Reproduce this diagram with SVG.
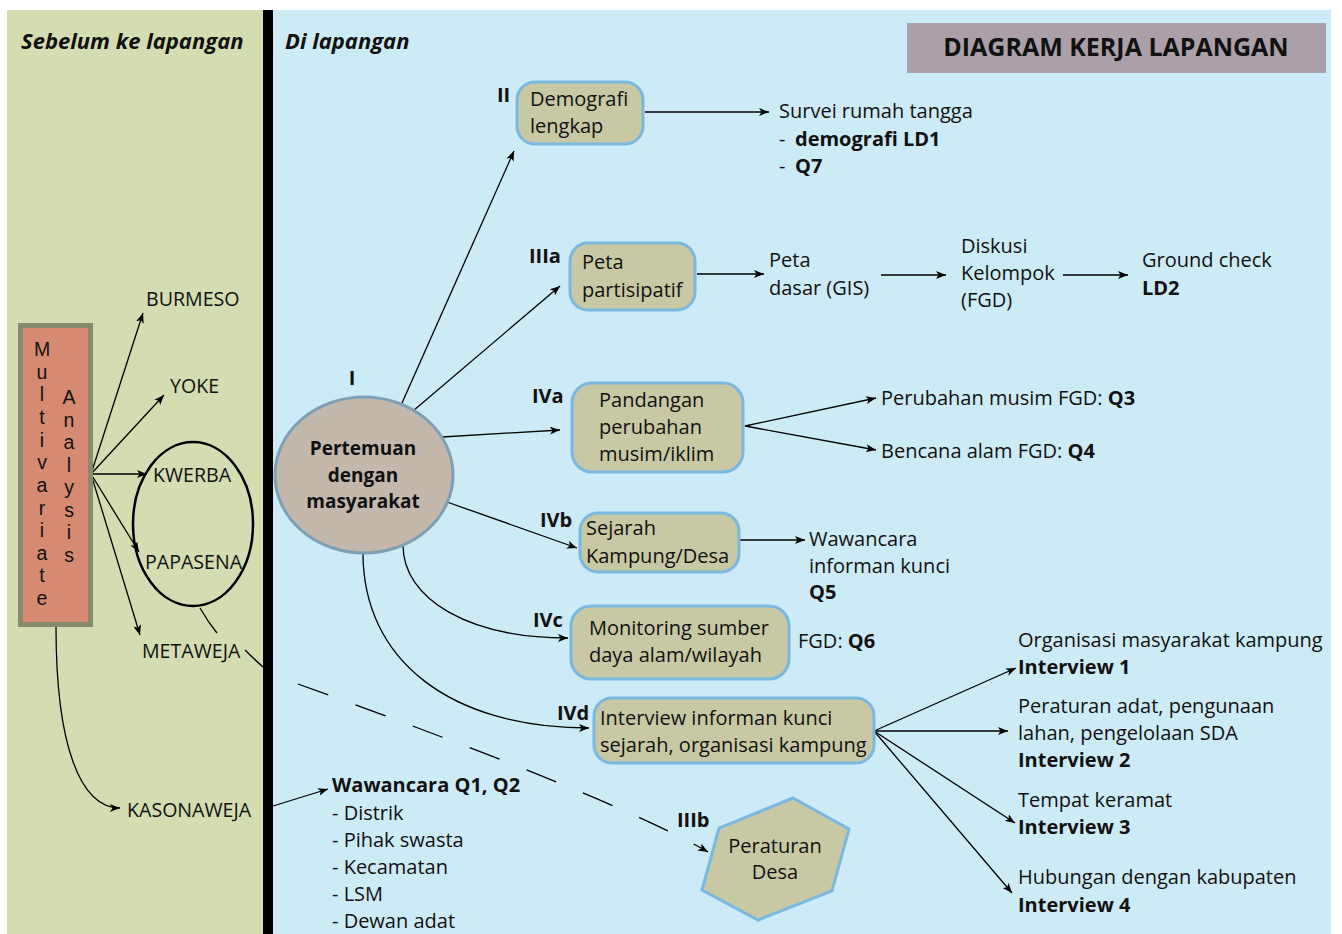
<svg xmlns="http://www.w3.org/2000/svg" width="1342" height="934" viewBox="0 0 1342 934">
<defs>
<marker id="ah" viewBox="0 0 10 8" refX="10" refY="4" markerWidth="10" markerHeight="8" markerUnits="userSpaceOnUse" orient="auto">
<path d="M0,0 L10,4 L0,8 L2.5,4 Z" fill="#000"/>
</marker>
<style>
text{font-family:"Open Sans","Liberation Sans",sans-serif;fill:#111;}
.t{font-size:20px;}
.l{font-size:19.6px;}
.b{font-weight:bold;}
.hd{font-size:22px;font-weight:bold;font-style:italic;}
.box{fill:#c8c8a4;stroke:#7ab8e0;stroke-width:3;}
.c{fill:none;stroke:#000;stroke-width:1.3;}
.ca{fill:none;stroke:#000;stroke-width:1.3;marker-end:url(#ah);}
.v{font-family:"Liberation Sans",Arial,sans-serif;font-size:19.5px;text-anchor:middle;}
</style>
</defs>
<rect x="0" y="0" width="1342" height="934" fill="#ffffff"/>
<rect x="7" y="10" width="256" height="924" fill="#d4ddb2"/>
<rect x="273" y="10" width="1058" height="924" fill="#cdeaf7"/>
<rect x="263" y="10" width="10" height="924" fill="#000"/>
<text class="hd" x="21" y="49">Sebelum ke lapangan</text>
<text class="hd" x="285" y="49">Di lapangan</text>
<g id="title">
<rect x="907" y="23" width="419" height="50" fill="#aba0aa"/>
<text x="1116" y="56" text-anchor="middle" style="font-size:25px;font-weight:bold">DIAGRAM KERJA LAPANGAN</text>
</g>
<g id="connectors">
<line class="ca" x1="91" y1="474" x2="143" y2="313"/>
<line class="ca" x1="91" y1="474" x2="164" y2="395"/>
<line class="ca" x1="91" y1="474" x2="147" y2="474"/>
<line class="ca" x1="91" y1="474" x2="139" y2="552"/>
<line class="ca" x1="91" y1="474" x2="140" y2="635"/>
<path class="ca" d="M56,627 C56,745 80,808 120,808"/>
<path class="c" d="M200,608 Q208,622 217,633"/>
<path class="c" d="M245,650 Q254,659 263,667"/>
<line class="ca" x1="273" y1="806" x2="328" y2="789"/>
<path class="ca" d="M298,684 Q615,798 708,852" stroke-dasharray="32 29"/>
<line class="ca" x1="402" y1="403" x2="514" y2="151"/>
<line class="ca" x1="413" y1="411" x2="560" y2="286"/>
<line class="ca" x1="442" y1="437" x2="560" y2="430"/>
<line class="ca" x1="447" y1="502" x2="577" y2="548"/>
<path class="ca" d="M403,545 C403,600 470,638 568,638"/>
<path class="ca" d="M363,553 C363,660 450,728 589,728"/>
<line class="ca" x1="645" y1="112" x2="769" y2="112"/>
<line class="ca" x1="697" y1="274" x2="764" y2="274"/>
<line class="ca" x1="881" y1="275" x2="946" y2="275"/>
<line class="ca" x1="1063" y1="275" x2="1128" y2="275"/>
<line class="ca" x1="745" y1="426" x2="876" y2="398"/>
<line class="ca" x1="745" y1="426" x2="876" y2="450"/>
<line class="ca" x1="740" y1="540" x2="805" y2="540"/>
<line class="ca" x1="874" y1="731" x2="1016" y2="668"/>
<line class="ca" x1="874" y1="731" x2="1008" y2="731"/>
<line class="ca" x1="874" y1="731" x2="1015" y2="823"/>
<line class="ca" x1="874" y1="731" x2="1012" y2="893"/>
</g>
<g id="multivariate">
<rect x="20.5" y="325.5" width="70" height="299" fill="#d68a72" stroke="#878a6c" stroke-width="5"/>
<text class="v"><tspan x="42" y="356">M</tspan><tspan x="42" y="378.6">u</tspan><tspan x="42" y="401.3">l</tspan><tspan x="42" y="423.9">t</tspan><tspan x="42" y="446.5">i</tspan><tspan x="42" y="469.2">v</tspan><tspan x="42" y="491.8">a</tspan><tspan x="42" y="514.5">r</tspan><tspan x="42" y="537.1">i</tspan><tspan x="42" y="559.7">a</tspan><tspan x="42" y="582.4">t</tspan><tspan x="42" y="605">e</tspan></text>
<text class="v"><tspan x="69" y="404">A</tspan><tspan x="69" y="426.6">n</tspan><tspan x="69" y="449.1">a</tspan><tspan x="69" y="471.7">l</tspan><tspan x="69" y="494.3">y</tspan><tspan x="69" y="516.9">s</tspan><tspan x="69" y="539.4">i</tspan><tspan x="69" y="562">s</tspan></text>
</g>
<g id="burmeso"><text class="l" x="146" y="306">BURMESO</text></g>
<g id="yoke"><text class="l" x="170" y="393">YOKE</text></g>
<g id="group-ellipse"><ellipse cx="193" cy="524" rx="60" ry="82" fill="none" stroke="#000" stroke-width="2.5"/></g>
<g id="kwerba"><text class="l" x="153" y="482">KWERBA</text></g>
<g id="papasena"><text class="l" x="145" y="569">PAPASENA</text></g>
<g id="metaweja"><text class="l" x="142" y="658">METAWEJA</text></g>
<g id="kasonaweja"><text class="l" x="127" y="817">KASONAWEJA</text></g>
<g id="wawancara">
<text class="t b" x="332" y="792">Wawancara Q1, Q2</text>
<text class="t" x="332" y="820">- Distrik</text>
<text class="t" x="332" y="847">- Pihak swasta</text>
<text class="t" x="332" y="874">- Kecamatan</text>
<text class="t" x="332" y="901">- LSM</text>
<text class="t" x="332" y="928">- Dewan adat</text>
</g>
<g id="n-I">
<text class="t b" x="352" y="385" text-anchor="middle">I</text>
<ellipse cx="364" cy="475" rx="89" ry="78" fill="#c4b8ac" stroke="#7fa0b4" stroke-width="3"/>
<text class="b" x="363" y="455" text-anchor="middle" font-size="19">Pertemuan</text>
<text class="b" x="363" y="482" text-anchor="middle" font-size="19">dengan</text>
<text class="b" x="363" y="508" text-anchor="middle" font-size="19">masyarakat</text>
</g>
<g id="n-II">
<text class="t b" x="497" y="102">II</text>
<rect class="box" x="517" y="82" width="126" height="62" rx="18"/>
<text class="t" x="530" y="106">Demografi</text>
<text class="t" x="530" y="133">lengkap</text>
</g>
<g id="survei">
<text class="t" x="779" y="118">Survei rumah tangga</text>
<text class="t" x="779" y="146">-</text><text class="t b" x="795" y="146">demografi LD1</text>
<text class="t" x="779" y="173">-</text><text class="t b" x="795" y="173">Q7</text>
</g>
<g id="n-IIIa">
<text class="t b" x="529" y="263">IIIa</text>
<rect class="box" x="570" y="243" width="125" height="67" rx="18"/>
<text class="t" x="582" y="269">Peta</text>
<text class="t" x="582" y="297">partisipatif</text>
</g>
<g id="peta-dasar">
<text class="t" x="769" y="267">Peta</text>
<text class="t" x="769" y="295">dasar (GIS)</text>
</g>
<g id="diskusi">
<text class="t" x="961" y="253">Diskusi</text>
<text class="t" x="961" y="280">Kelompok</text>
<text class="t" x="961" y="307">(FGD)</text>
</g>
<g id="ground">
<text class="t" x="1142" y="267">Ground check</text>
<text class="t b" x="1142" y="295">LD2</text>
</g>
<g id="n-IVa">
<text class="t b" x="532" y="403">IVa</text>
<rect class="box" x="572" y="383" width="171" height="89" rx="20"/>
<text class="t" x="599" y="407">Pandangan</text>
<text class="t" x="599" y="434">perubahan</text>
<text class="t" x="599" y="461">musim/iklim</text>
</g>
<g id="perubahan"><text class="t" x="881" y="405">Perubahan musim FGD: <tspan class="b">Q3</tspan></text></g>
<g id="bencana"><text class="t" x="881" y="458">Bencana alam FGD: <tspan class="b">Q4</tspan></text></g>
<g id="n-IVb">
<text class="t b" x="540" y="527">IVb</text>
<rect class="box" x="580" y="513" width="159" height="59" rx="18"/>
<text class="t" x="586" y="535">Sejarah</text>
<text class="t" x="586" y="563">Kampung/Desa</text>
</g>
<g id="wawancara-kunci">
<text class="t" x="809" y="546">Wawancara</text>
<text class="t" x="809" y="573">informan kunci</text>
<text class="t b" x="809" y="599">Q5</text>
</g>
<g id="n-IVc">
<text class="t b" x="533" y="627">IVc</text>
<rect class="box" x="571" y="606" width="218" height="73" rx="20"/>
<text class="t" x="589" y="635">Monitoring sumber</text>
<text class="t" x="589" y="662">daya alam/wilayah</text>
</g>
<g id="fgd-q6"><text class="t" x="798" y="648">FGD: <tspan class="b">Q6</tspan></text></g>
<g id="n-IVd">
<text class="t b" x="557" y="720">IVd</text>
<rect class="box" x="594" y="698" width="280" height="65" rx="18"/>
<text class="t" x="600" y="725">Interview informan kunci</text>
<text class="t" x="600" y="752">sejarah, organisasi kampung</text>
</g>
<g id="interview1">
<text class="t" x="1018" y="647">Organisasi masyarakat kampung</text>
<text class="t b" x="1018" y="674">Interview 1</text>
</g>
<g id="interview2">
<text class="t" x="1018" y="713">Peraturan adat, pengunaan</text>
<text class="t" x="1018" y="740">lahan, pengelolaan SDA</text>
<text class="t b" x="1018" y="767">Interview 2</text>
</g>
<g id="interview3">
<text class="t" x="1018" y="807">Tempat keramat</text>
<text class="t b" x="1018" y="834">Interview 3</text>
</g>
<g id="interview4">
<text class="t" x="1018" y="884">Hubungan dengan kabupaten</text>
<text class="t b" x="1018" y="912">Interview 4</text>
</g>
<g id="n-IIIb">
<text class="t b" x="677" y="827">IIIb</text>
<polygon class="box" points="793,798 849,829 832,891 758,920 702,890 719,828"/>
<text class="t" x="775" y="853" text-anchor="middle">Peraturan</text>
<text class="t" x="775" y="879" text-anchor="middle">Desa</text>
</g>
</svg>
